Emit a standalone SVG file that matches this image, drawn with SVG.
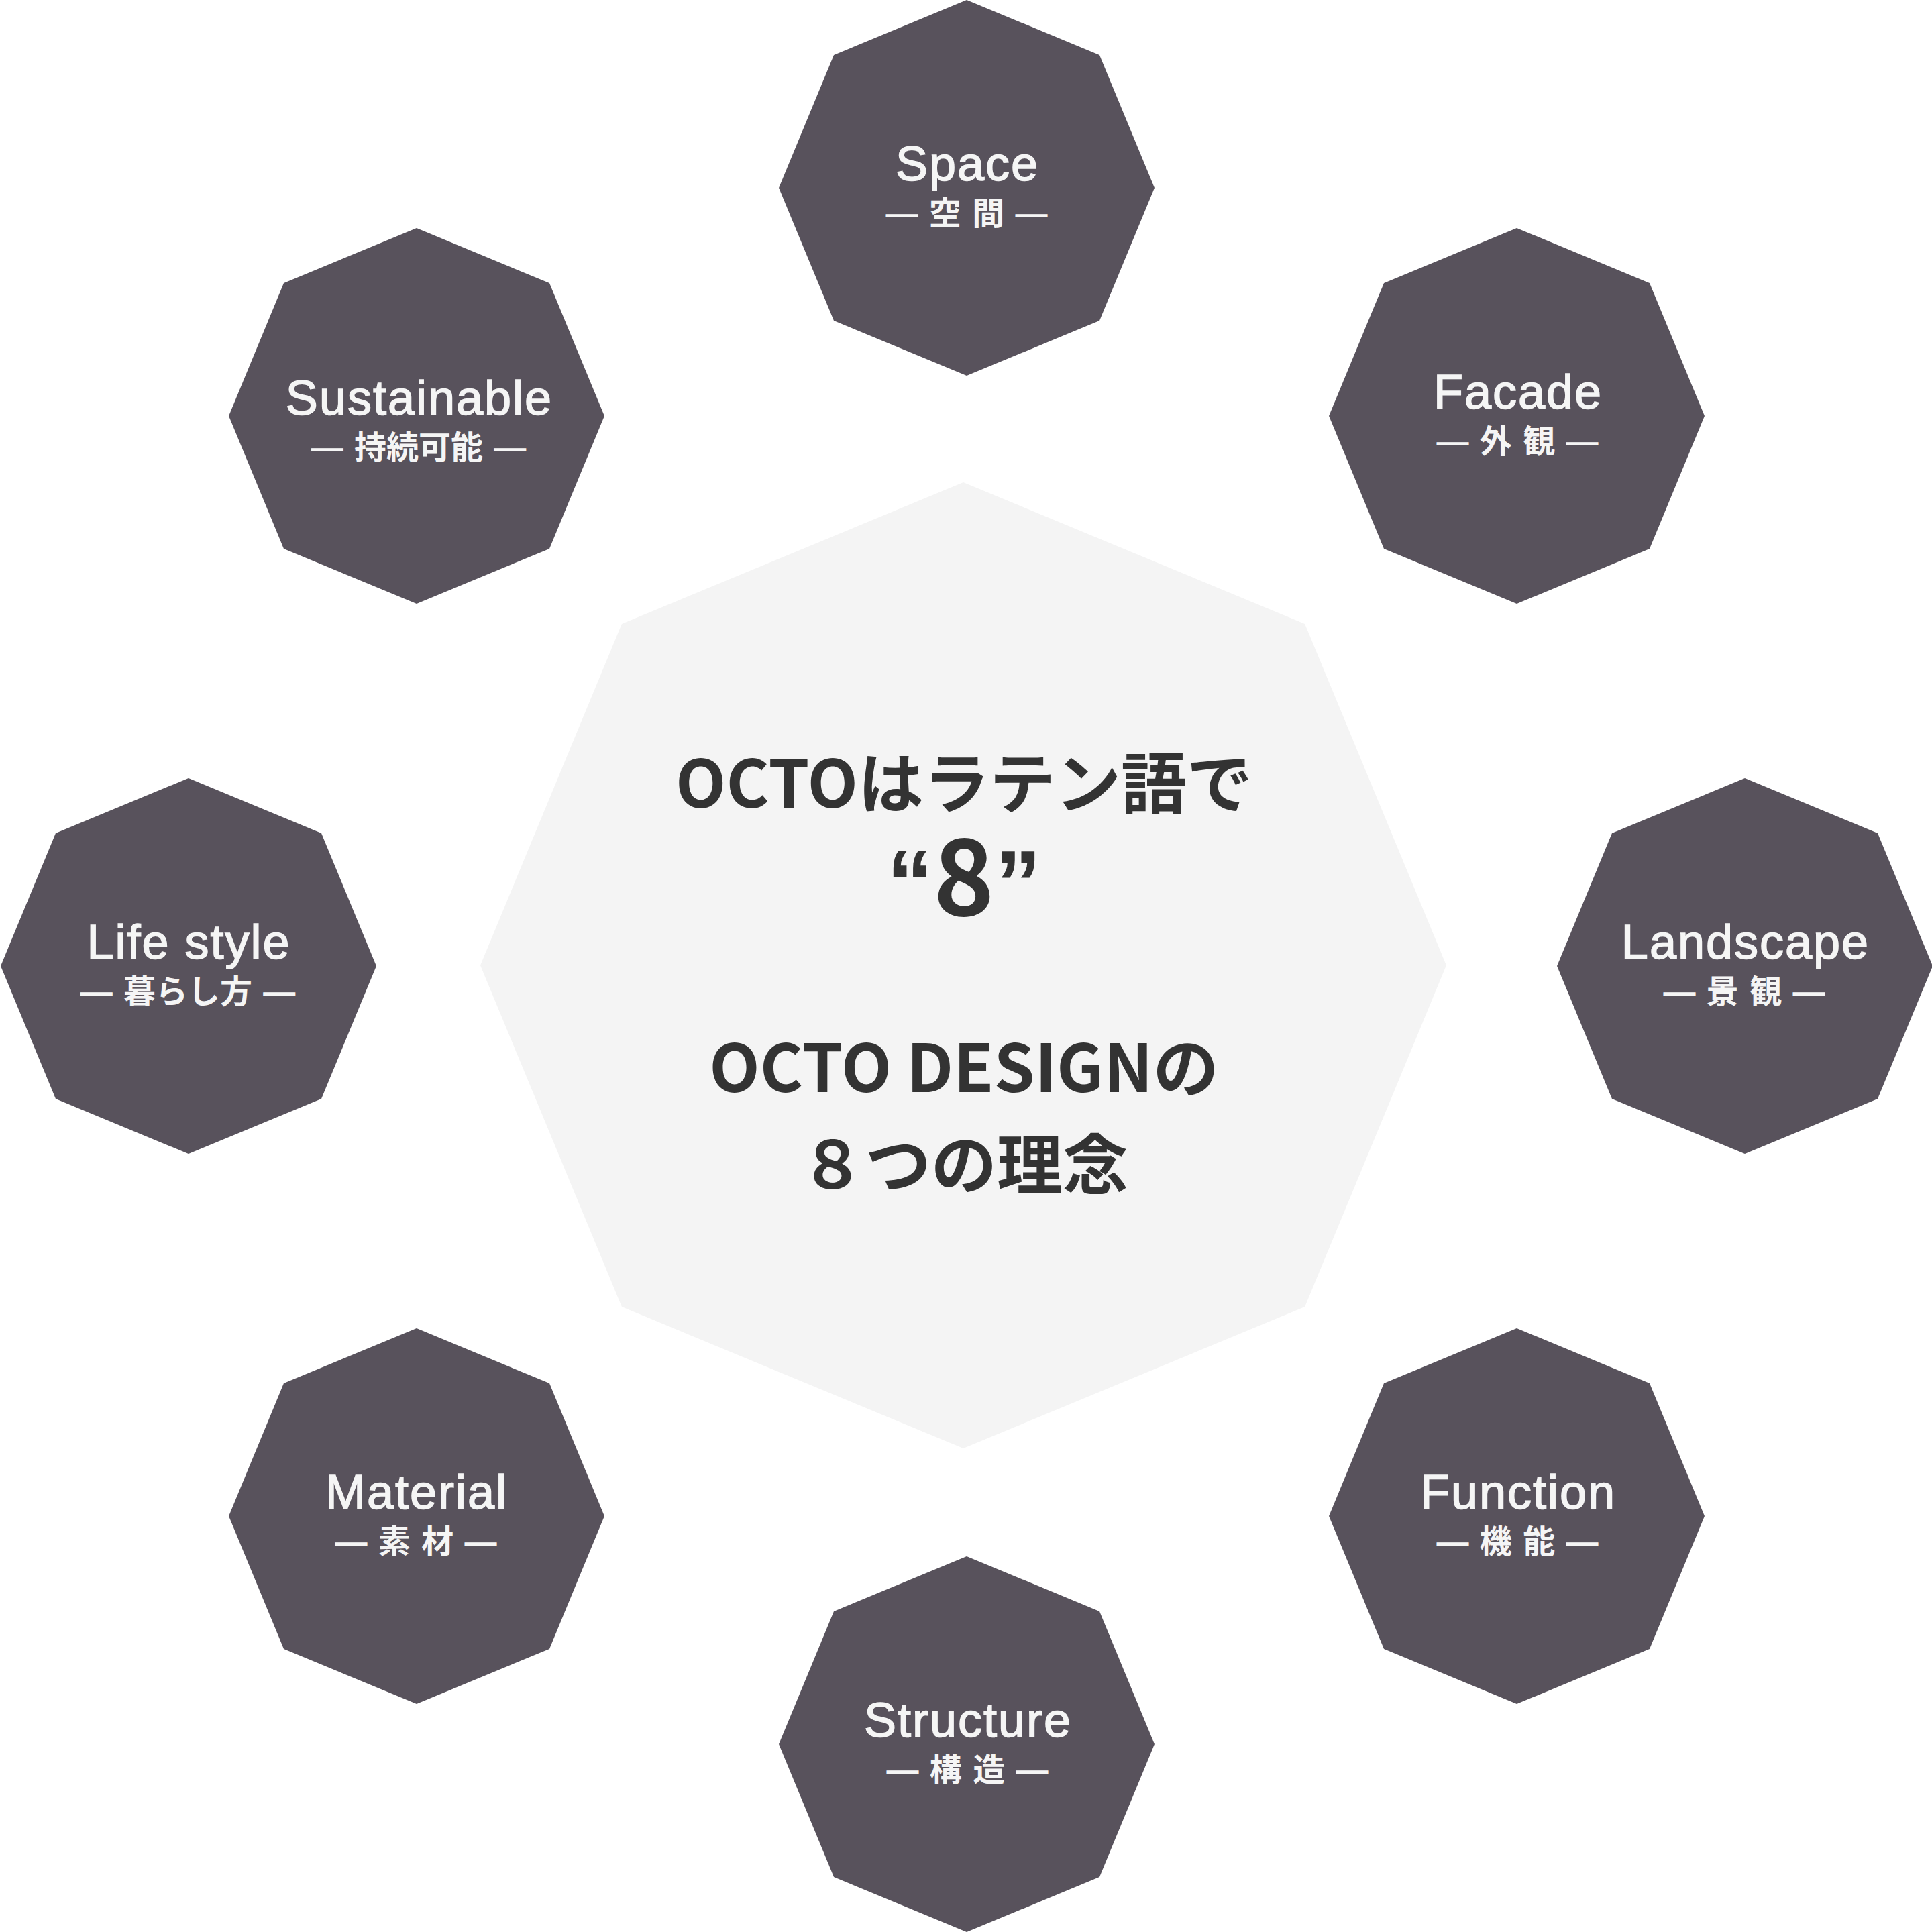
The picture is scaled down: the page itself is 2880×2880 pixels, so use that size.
<svg xmlns="http://www.w3.org/2000/svg" width="2880" height="2880" viewBox="0 0 2880 2880">
<style>
.oct{fill:#58525c}
.center{fill:#f4f4f4}
.label{font-family:"Liberation Sans","Noto Sans",Arial,sans-serif;font-size:72px;fill:#f5f5f5;stroke:#f5f5f5;stroke-width:1.6px;text-anchor:middle;letter-spacing:2px}
.sub{font-family:"Liberation Sans","Noto Sans CJK JP","Noto Sans CJK SC",sans-serif;font-size:48px;font-weight:700;fill:#f5f5f5;text-anchor:middle;word-spacing:3px}
.title{font-family:"Noto Sans CJK JP","Noto Sans CJK SC",sans-serif;font-weight:700;fill:#333333;text-anchor:middle}
.q{font-family:"Liberation Sans","Noto Sans",sans-serif;font-size:140px}
.d{font-family:"Noto Sans CJK JP","Noto Sans",sans-serif;font-size:154px}
</style>
<defs>
<polygon id="oct-small" class="oct" points="0,-280 198,-198 280,0 198,198 0,280 -198,198 -280,0 -198,-198"/>
</defs>
<rect width="2880" height="2880" fill="#ffffff"/>
<g id="connectors"></g>
<g id="node-center">
<polygon class="center" points="1436,719 1945.1,929.9 2156,1439 1945.1,1948.1 1436,2159 926.9,1948.1 716,1439 926.9,929.9"/>
<text class="title" x="1437" y="1204" font-size="98">OCTOはラテン語で</text>
<text class="title" x="1437" y="1365"><tspan class="q">“</tspan><tspan class="d">8</tspan><tspan class="q">”</tspan></text>
<text class="title" x="1437" y="1628" font-size="98">OCTO DESIGNの</text>
<text class="title" x="1437" y="1772" font-size="98">８つの理念</text>
</g>
<g id="node-space">
<use href="#oct-small" x="1441" y="280"/>
<text class="label" x="1442" y="269">Space</text>
<text class="sub" x="1441" y="334.5">— 空 間 —</text>
</g>
<g id="node-facade">
<use href="#oct-small" x="2261" y="620"/>
<text class="label" x="2263" y="609">Facade</text>
<text class="sub" x="2262" y="674.5">— 外 観 —</text>
</g>
<g id="node-landscape">
<use href="#oct-small" x="2601" y="1440"/>
<text class="label" x="2602" y="1429">Landscape</text>
<text class="sub" x="2600" y="1494.5">— 景 観 —</text>
</g>
<g id="node-function">
<use href="#oct-small" x="2261" y="2260"/>
<text class="label" x="2263" y="2249">Function</text>
<text class="sub" x="2262" y="2314.5">— 機 能 —</text>
</g>
<g id="node-structure">
<use href="#oct-small" x="1441" y="2600"/>
<text class="label" x="1443" y="2589">Structure</text>
<text class="sub" x="1442" y="2654.5">— 構 造 —</text>
</g>
<g id="node-material">
<use href="#oct-small" x="621" y="2260"/>
<text class="label" x="621" y="2249">Material</text>
<text class="sub" x="620" y="2314.5">— 素 材 —</text>
</g>
<g id="node-lifestyle">
<use href="#oct-small" x="281" y="1440"/>
<text class="label" x="281.5" y="1429">Life style</text>
<text class="sub" x="280" y="1494.5">— 暮らし方 —</text>
</g>
<g id="node-sustainable">
<use href="#oct-small" x="621" y="620"/>
<text class="label" x="625" y="618">Sustainable</text>
<text class="sub" x="624" y="683.5">— 持続可能 —</text>
</g>
</svg>
